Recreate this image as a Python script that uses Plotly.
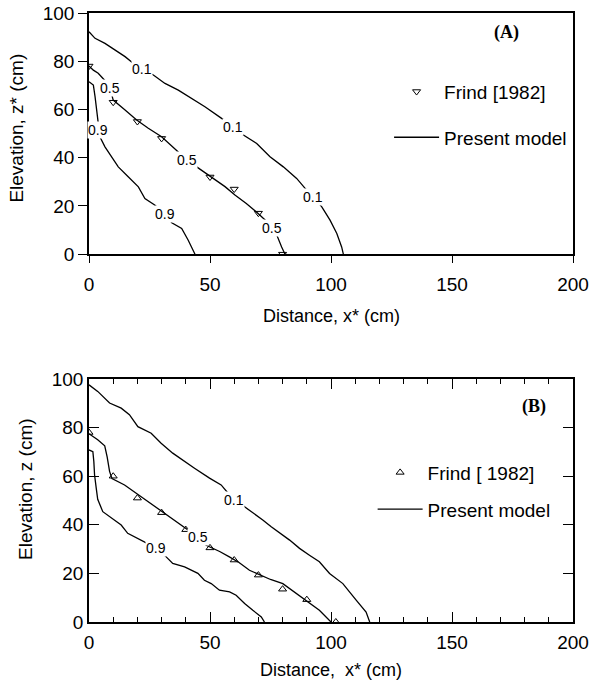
import plotly.graph_objects as go

# ---------------- Panel A data ----------------
a_frind_x = [0, 10, 20, 30, 40, 50, 60, 70, 80]
a_frind_y = [78, 63, 55, 48, 40, 32, 27, 17, 0]

a_c01_x = [0, 2.5, 6.6, 10.7, 14.9, 18.5, 21.8, 26.6, 31.4, 36.9, 42.4, 47.9, 54.8, 59, 63.8,
           69.3, 74.8, 80.3, 85.8, 89.3, 92.7, 96.2, 99.6, 102.4, 104.4, 105.1]
a_c01_y = [92.2, 89.5, 87.4, 84.6, 81.9, 79, 76.6, 74.3, 70.8, 68, 64.6, 61.1, 56.3, 53.5, 49.4,
           45.9, 40.4, 36.2, 31.4, 27.3, 23.8, 19.6, 14.1, 8.6, 3, 0]

a_c05_x = [0, 1.8, 3.8, 5.5, 7.5, 8.7, 10, 14.9, 19.7, 24.5, 30, 36.9, 40.4, 44.5, 50.4, 56.2,
           60.3, 65, 70, 73, 75.5, 77.6, 79.6, 81]
a_c05_y = [78, 76.3, 75, 73, 71, 68.8, 63.9, 59.8, 55.6, 52.2, 48.7, 42.4, 39, 36.2, 32.1, 28,
           24.5, 21, 16.8, 14, 10.9, 7.9, 3, 0]

a_c09_x = [0, 1.8, 2.5, 3.2, 3.6, 3.9, 4.5, 6.6, 9.4, 12.1, 16.2, 20.4, 23.1, 27.3, 31.4, 34.2,
           38.3, 41, 43.8]
a_c09_y = [71.5, 70.1, 65.3, 59.8, 55.6, 52, 48.7, 44.5, 40.4, 36.2, 32.1, 27.9, 23.1, 20.3,
           16.6, 13, 10.7, 5.8, 0]

a_lab_text = ["0.1", "0.1", "0.1", "0.5", "0.5", "0.5", "0.9", "0.9"]
a_lab_x = [21.8, 59.5, 92.7, 8.7, 40.4, 75.5, 3.8, 31.4]
a_lab_y = [76.6, 52.8, 23.8, 68.8, 39, 10.9, 51.5, 16.6]

# ---------------- Panel B data ----------------
b_frind_x = [0, 10, 20, 30, 40, 50, 60, 70, 80, 90, 102]
b_frind_y = [78, 60, 51, 45, 38, 30.5, 25.5, 19.3, 13.5, 9.2, 0]

b_c01_x = [0, 3.6, 8.5, 13.3, 16.7, 20.2, 25.7, 29.8, 34.6, 39.5, 43.6, 49.8, 54.6, 57.5, 60,
           64.3, 71.8, 75.3, 82.9, 87, 91.1, 95.2, 99.4, 104.9, 110.4, 114.5, 116]
b_c01_y = [97.6, 94.9, 90.1, 88, 85.3, 80.4, 77.7, 73.6, 69.5, 66, 63.3, 59.2, 56.4, 53, 51,
           47.4, 42, 39.2, 33.7, 30.3, 27.5, 24.8, 20, 15.8, 9, 4.1, 0]

b_c05_x = [0, 3.6, 6.5, 7.5, 8.5, 9.5, 14.7, 20.2, 25, 30.5, 35, 40, 45, 48.4, 54, 58, 62,
           66.3, 70.5, 75, 80.1, 85.6, 90.4, 95.2, 100]
b_c05_y = [77.5, 75, 72.5, 68, 62, 59, 56.4, 52.5, 49, 45.4, 42, 38.5, 35, 31.6, 29, 26.8, 24.5,
           21.3, 19.3, 17.5, 15.8, 11.7, 8, 4.8, 0]

b_c09_x = [0, 1.6, 2, 2.3, 3, 3.6, 5.7, 9.8, 13.3, 16, 20.2, 24, 28, 31.9, 34.6, 39.5, 45, 47.7,
           50.5, 53.9, 58.1, 60.8, 64.3, 67.7, 71.2, 72.5]
b_c09_y = [70.8, 70.1, 66, 60.5, 55, 50.5, 45.4, 42.6, 39.9, 36.5, 34.4, 32.5, 30.3, 26.8, 24.1,
           22.7, 20, 17.2, 15.8, 13.1, 12.4, 11, 7.6, 4.8, 2.1, 0]

b_lab_text = ["0.1", "0.5", "0.9"]
b_lab_x = [60, 45, 27.8]
b_lab_y = [50.2, 35, 30.3]

x_ticks = [0, 50, 100, 150, 200]
y_ticks = [0, 20, 40, 60, 80, 100]

FONT = "Liberation Sans, Arial, sans-serif"
LINE = dict(color="black", width=1.3)

fig = go.Figure()

# Panel A traces
fig.add_trace(go.Scatter(x=a_frind_x, y=a_frind_y, mode="markers", name="Frind [1982]",
                         marker=dict(symbol="triangle-down-open", size=7, color="black",
                                     line=dict(width=1)),
                         xaxis="x", yaxis="y", legend="legend", legendgroup="fa"))
for i, (xs, ys) in enumerate([(a_c01_x, a_c01_y), (a_c05_x, a_c05_y), (a_c09_x, a_c09_y)]):
    fig.add_trace(go.Scatter(x=xs, y=ys, mode="lines", line=LINE, name="Present model",
                             showlegend=(i == 0), xaxis="x", yaxis="y",
                             legend="legend", legendgroup="pa"))

# Panel B traces
fig.add_trace(go.Scatter(x=b_frind_x, y=b_frind_y, mode="markers", name="Frind [ 1982]",
                         marker=dict(symbol="triangle-up-open", size=7, color="black",
                                     line=dict(width=1)),
                         xaxis="x2", yaxis="y2", legend="legend2", legendgroup="fb"))
for i, (xs, ys) in enumerate([(b_c01_x, b_c01_y), (b_c05_x, b_c05_y), (b_c09_x, b_c09_y)]):
    fig.add_trace(go.Scatter(x=xs, y=ys, mode="lines", line=LINE, name="Present model",
                             showlegend=(i == 0), xaxis="x2", yaxis="y2",
                             legend="legend2", legendgroup="pb"))

annotations = []
for t, x, y in zip(a_lab_text, a_lab_x, a_lab_y):
    annotations.append(dict(x=x, y=y, xref="x", yref="y", text=t, showarrow=False,
                            xanchor="center", yanchor="middle",
                            font=dict(family=FONT, size=14, color="black"),
                            bgcolor="white", borderpad=0))
for t, x, y in zip(b_lab_text, b_lab_x, b_lab_y):
    annotations.append(dict(x=x, y=y, xref="x2", yref="y2", text=t, showarrow=False,
                            xanchor="center", yanchor="middle",
                            font=dict(family=FONT, size=14, color="black"),
                            bgcolor="white", borderpad=0))

TITLE_FONT = dict(family=FONT, size=18, color="black")
YTITLE_FONT = dict(family=FONT, size=19, color="black")
SERIF = dict(family="Liberation Serif, Times New Roman, serif", size=18, color="black")
annotations += [
    dict(x=172.7, y=92.1, xref="x", yref="y", text="<b>(A)</b>", showarrow=False,
         xanchor="center", yanchor="middle", font=SERIF),
    dict(x=184, y=88.6, xref="x2", yref="y2", text="<b>(B)</b>", showarrow=False,
         xanchor="center", yanchor="middle", font=SERIF),
    dict(x=0.5, y=0.5025, xref="paper", yref="paper", text="Distance, x* (cm)", showarrow=False,
         xanchor="center", yanchor="middle", font=TITLE_FONT),
    dict(x=0.5, y=-0.0788, xref="paper", yref="paper", text="Distance,  x* (cm)",
         showarrow=False, xanchor="center", yanchor="middle", font=TITLE_FONT),
    dict(x=-0.1498, y=0.811, xref="paper", yref="paper", text="Elevation, z* (cm)",
         showarrow=False, textangle=-90, xanchor="center", yanchor="middle", font=YTITLE_FONT),
    dict(x=-0.130, y=0.217, xref="paper", yref="paper", text="Elevation, z (cm)",
         showarrow=False, textangle=-90, xanchor="center", yanchor="middle", font=YTITLE_FONT),
]

axis_common = dict(showgrid=False, zeroline=False, showline=True, linecolor="black",
                   linewidth=1.5, tickcolor="black", tickwidth=1.3, automargin=False,
                   ticklabeloverflow="allow",
                   tickfont=dict(family=FONT, size=19, color="black"))

fig.update_layout(
    width=591, height=689,
    margin=dict(l=89, r=18, t=13, b=67),
    paper_bgcolor="white", plot_bgcolor="white",
    xaxis=dict(domain=[0, 1], range=[0, 200], tickvals=x_ticks, ticks="outside", ticklen=7,
               mirror=True, anchor="y", ticklabelstandoff=5, **axis_common),
    yaxis=dict(domain=[0.604, 1], range=[0, 100], tickvals=y_ticks, ticks="outside", ticklen=9,
               mirror=True, anchor="x", **axis_common),
    xaxis2=dict(domain=[0, 1], range=[0, 200], tickvals=x_ticks, ticks="inside", ticklen=10,
                mirror="ticks", anchor="y2", ticklabelstandoff=2,
                minor=dict(dtick=10, ticks="inside", ticklen=5, tickcolor="black", tickwidth=1.3),
                **axis_common),
    yaxis2=dict(domain=[0, 0.399], range=[0, 100], tickvals=y_ticks, ticks="inside",
                ticklen=10, mirror="ticks", anchor="x2", **axis_common),
    showlegend=True,
    legend=dict(x=0.62, y=0.902, xanchor="left", yanchor="top", bgcolor="rgba(0,0,0,0)",
                itemwidth=45,
                font=dict(family=FONT, size=19, color="black"), tracegroupgap=18),
    legend2=dict(x=0.586, y=0.2766, xanchor="left", yanchor="top", bgcolor="rgba(0,0,0,0)",
                 itemwidth=45,
                 font=dict(family=FONT, size=19, color="black"), tracegroupgap=9),
    annotations=annotations,
)

fig.write_html("out.html", config={"displayModeBar": False},
               post_script="document.body.style.margin='0';document.body.style.overflow='hidden';")
